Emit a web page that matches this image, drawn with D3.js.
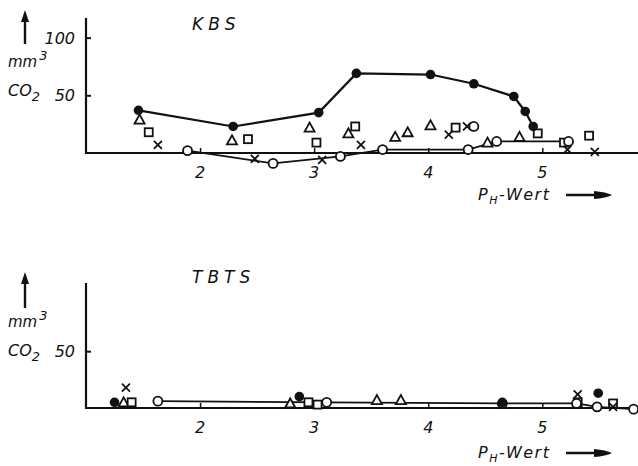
<!DOCTYPE html>
<html><head><meta charset="utf-8">
<script src="https://cdn.jsdelivr.net/npm/d3@7"></script>
<style>body{margin:0;background:#fff}svg{display:block}text{font-family:"DejaVu Sans",sans-serif;font-style:italic;fill:#111}</style>
</head><body>
<script>
// ---- data (pH, mm3 CO2) ----
const xTicks = [2, 3, 4, 5];
const kbsYTicks = [50, 100];
const tbtsYTicks = [50];

const kbsFilled = [[1.46,37],[2.29,23],[3.04,35],[3.37,69],[4.02,68],[4.40,60],[4.75,49],[4.85,36],[4.92,23]];
const kbsCircleLine = [[1.89,2],[2.64,-9],[3.23,-3],[3.60,3],[4.35,3],[4.60,10],[5.23,10]];
const kbsCircleExtra = [[4.40,23]];
const kbsTriangles = [[1.47,29],[2.28,11],[2.96,22],[3.30,17],[3.71,14],[3.82,18],[4.02,24],[4.52,9],[4.80,14]];
const kbsSquares = [[1.55,18],[2.42,12],[3.02,9],[3.36,23],[4.24,22],[4.96,17],[5.19,9],[5.41,15]];
const kbsCrosses = [[1.63,7],[2.48,-5],[3.07,-6],[3.41,7],[4.18,16],[4.34,23],[5.22,3],[5.46,1]];

const tbtsFilled = [[1.25,5],[2.87,10],[4.65,5],[5.49,13]];
const tbtsCircleLine = [[1.63,6],[3.11,5],[4.65,4],[5.30,4],[5.48,1],[5.80,-1]];
const tbtsTriangles = [[1.33,5],[2.79,4],[3.55,7],[3.76,7]];
const tbtsSquares = [[1.40,5],[2.95,5],[3.03,3],[5.31,5],[5.62,4]];
const tbtsCrosses = [[1.35,18],[5.31,12],[5.62,1]];

const W = 638, H = 466;
const svg = d3.select("body").append("svg").attr("width", W).attr("height", H);

const x = d3.scaleLinear().domain([1, 5.83]).range([86, 637]);

function arrowUp(g, cx, y1, y2) {
  g.append("line").attr("x1",cx).attr("x2",cx).attr("y1",y2).attr("y2",y1+8).attr("stroke","#111").attr("stroke-width",2.4);
  g.append("path").attr("d",`M${cx-4},${y1+12}L${cx},${y1}L${cx+4},${y1+12}Z`).attr("fill","#111");
}
function arrowRight(g, x1, x2, cy) {
  g.append("line").attr("x1",x1).attr("x2",x2-10).attr("y1",cy).attr("y2",cy).attr("stroke","#111").attr("stroke-width",2.4);
  g.append("path").attr("d",`M${x2-18},${cy-4}Q${x2-6},${cy-3} ${x2},${cy}Q${x2-6},${cy+3} ${x2-18},${cy+4}Z`).attr("fill","#111");
}

function panel(cfg) {
  const g = svg.append("g");
  const y = d3.scaleLinear().domain([0, cfg.yMax]).range([cfg.y0, cfg.yTop]);
  g.append("line").attr("x1",x(1)).attr("x2",W).attr("y1",y(0)).attr("y2",y(0)).attr("stroke","#111").attr("stroke-width",2.2);
  g.append("line").attr("x1",x(1)).attr("x2",x(1)).attr("y1",y(0)+1).attr("y2",y(cfg.yMax)).attr("stroke","#111").attr("stroke-width",2.2);
  const yAxis = d3.axisRight(y).tickValues(cfg.yTicks).tickSize(5).tickFormat("");
  const ya = g.append("g").attr("transform",`translate(${x(1)},0)`).call(yAxis);
  ya.select(".domain").remove();
  ya.selectAll("line").attr("stroke","#111").attr("stroke-width",2);
  cfg.yTicks.forEach(v => g.append("text").attr("x",x(1)-11).attr("y",y(v)+6).attr("text-anchor","end").attr("font-size",16).text(v));
  const xAxis = d3.axisTop(x).tickValues(xTicks).tickSize(5).tickFormat("");
  const xa = g.append("g").attr("transform",`translate(0,${y(0)})`).call(xAxis);
  xa.select(".domain").remove();
  xa.selectAll("line").attr("stroke","#111").attr("stroke-width",1.5);
  xTicks.forEach(v => g.append("text").attr("x",x(v)).attr("y",y(0)+25).attr("text-anchor","middle").attr("font-size",16).text(v));

  g.append("text").attr("x",cfg.titleX).attr("y",cfg.titleY).attr("font-size",17).attr("letter-spacing",5).text(cfg.title);
  arrowUp(g, 25, cfg.arrowTop, cfg.arrowBot);
  g.append("text").attr("x",8).attr("y",cfg.mmY).attr("font-size",15).text("mm").append("tspan").attr("dy",-7).attr("font-size",13).attr("dx",2).text("3");
  const co = g.append("text").attr("x",8).attr("y",cfg.coY).attr("font-size",16).text("CO");
  co.append("tspan").attr("dy",5).attr("font-size",13).text("2");
  const pw = g.append("text").attr("x",478).attr("y",cfg.phY).attr("font-size",16).attr("letter-spacing",1.5).text("P");
  pw.append("tspan").attr("dy",4).attr("font-size",11).text("H");
  pw.append("tspan").attr("dy",-4).text("-Wert");
  arrowRight(g, 566, 612, cfg.phY - 5);

  const line = d3.line().x(d=>x(d[0])).y(d=>y(d[1]));
  g.append("path").datum(cfg.circleLine).attr("d",line).attr("fill","none").attr("stroke","#111").attr("stroke-width",1.8);
  if (cfg.filledLine) g.append("path").datum(cfg.filled).attr("d",line).attr("fill","none").attr("stroke","#111").attr("stroke-width",2.2);

  g.selectAll(".tri").data(cfg.triangles).join("path")
    .attr("d", d=>{const cx=x(d[0]), cy=y(d[1]); return `M${cx-5},${cy+4}L${cx},${cy-5}L${cx+5},${cy+4}Z`;})
    .attr("fill","#fff").attr("stroke","#111").attr("stroke-width",1.8);
  g.selectAll(".sq").data(cfg.squares).join("rect")
    .attr("x",d=>x(d[0])-4).attr("y",d=>y(d[1])-4).attr("width",8).attr("height",8)
    .attr("fill","#fff").attr("stroke","#111").attr("stroke-width",1.8);
  g.selectAll(".cr").data(cfg.crosses).join("path")
    .attr("d", d=>{const cx=x(d[0]), cy=y(d[1]); return `M${cx-4},${cy-4}L${cx+4},${cy+4}M${cx+4},${cy-4}L${cx-4},${cy+4}`;})
    .attr("stroke","#111").attr("stroke-width",1.8);
  g.selectAll(".oc").data(cfg.circleLine.concat(cfg.circleExtra)).join("circle")
    .attr("cx",d=>x(d[0])).attr("cy",d=>y(d[1])).attr("r",4.5)
    .attr("fill","#fff").attr("stroke","#111").attr("stroke-width",1.8);
  g.selectAll(".fc").data(cfg.filled).join("circle")
    .attr("cx",d=>x(d[0])).attr("cy",d=>y(d[1])).attr("r",4.8).attr("fill","#111");
}

panel({yMax:117, y0:153, yTop:18, yTicks:kbsYTicks, title:"KBS", titleX:192, titleY:30,
  arrowTop:10, arrowBot:44, mmY:67, coY:96, phY:200,
  filled:kbsFilled, filledLine:true, circleLine:kbsCircleLine, circleExtra:kbsCircleExtra,
  triangles:kbsTriangles, squares:kbsSquares, crosses:kbsCrosses});

panel({yMax:110, y0:408, yTop:283, yTicks:tbtsYTicks, title:"TBTS", titleX:192, titleY:283,
  arrowTop:272, arrowBot:308, mmY:327, coY:356, phY:458,
  filled:tbtsFilled, filledLine:false, circleLine:tbtsCircleLine, circleExtra:[],
  triangles:tbtsTriangles, squares:tbtsSquares, crosses:tbtsCrosses});
</script>
</body></html>
